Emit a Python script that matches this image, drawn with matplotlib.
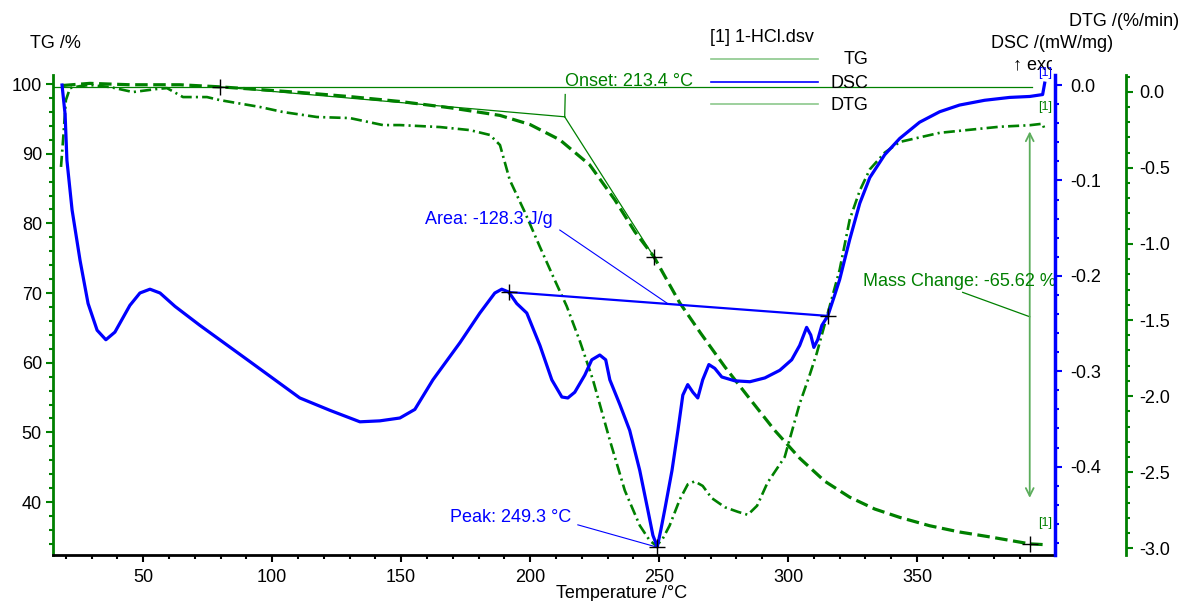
import matplotlib.pyplot as plt
from matplotlib.lines import Line2D
from matplotlib.ticker import MultipleLocator, FixedLocator
from matplotlib.transforms import Bbox

plt.rcParams['font.family'] = ['Liberation Sans', 'DejaVu Sans']
plt.rcParams['font.size'] = 13
plt.rcParams['lines.scale_dashes'] = False

GREEN = '#008000'
LIGHT = '#5cad5c'
BLUE = '#0000ff'

# TG /% vs temperature
tg_temp = [18.9, 29.3, 44.8, 64.2, 79.7, 95.2, 110.7, 130.1, 149.5, 168.9, 188.3, 199.9,
           211.5, 223.1, 232.8, 240.6, 248.0, 258.0, 266.0, 275.5, 285.2, 294.8, 304.5,
           314.2, 323.9, 333.6, 343.3, 354.9, 366.5, 378.2, 393.7, 398.7]
tg_mass = [99.8, 100.1, 99.9, 99.9, 99.6, 99.2, 98.8, 98.2, 97.5, 96.6, 95.5, 94.2,
           92.0, 88.4, 83.4, 78.8, 75.2, 68.6, 64.3, 59.4, 54.8, 50.3, 46.3,
           43.0, 40.7, 39.0, 37.8, 36.6, 35.7, 35.0, 34.0, 33.9]

# DTG /(%/min)
dtg_temp = [18.1, 18.9, 20.0, 21.6, 25.5, 29.3, 37.1, 46.0, 55.3, 59.2, 65.4, 74.7, 79.7,
            95.2, 104.1, 117.3, 130.1, 142.9, 149.5, 165.0, 176.6, 184.4, 188.3, 192.1,
            197.9, 203.8, 209.6, 214.2, 219.3, 224.3, 230.9, 236.7, 242.5, 246.4, 248.7,
            251.0, 254.1, 258.0, 261.1, 263.8, 266.9, 270.4, 275.5, 280.5, 284.4, 288.0,
            292.0, 298.7, 304.5, 308.4, 311.1, 315.0, 320.0, 323.9, 327.8, 331.7, 337.5,
            343.3, 351.0, 358.8, 370.4, 382.0, 393.7, 398.7, 399.5]
dtg_rate = [-0.494, -0.317, -0.055, 0.024, 0.037, 0.044, 0.031, -0.002, 0.018, 0.024, -0.035,
            -0.035, -0.055, -0.10, -0.133, -0.166, -0.173, -0.219, -0.219, -0.232, -0.252,
            -0.284, -0.35, -0.58, -0.79, -1.02, -1.24, -1.41, -1.64, -1.89, -2.29, -2.62,
            -2.85, -2.95, -2.98, -2.95, -2.85, -2.68, -2.58, -2.56, -2.59, -2.67, -2.73,
            -2.76, -2.78, -2.72, -2.57, -2.40, -2.05, -1.86, -1.72, -1.48, -1.17, -0.84,
            -0.65, -0.51, -0.40, -0.33, -0.30, -0.27, -0.25, -0.23, -0.22, -0.21, -0.25]

# DSC /(mW/mg)
dsc_temp = [18.5, 19.7, 20.4, 22.4, 25.5, 28.6, 32.1, 35.5, 39.0, 44.8, 48.7, 52.6, 56.5,
            62.3, 72.0, 91.4, 110.7, 122.4, 134.0, 141.7, 149.5, 155.3, 162.3, 172.8, 180.5,
            186.3, 189.0, 191.7, 194.8, 198.7, 203.8, 208.4, 212.3, 214.6, 217.3, 221.2,
            223.9, 227.0, 229.3, 230.9, 234.8, 238.6, 242.5, 245.6, 247.6, 249.3, 250.7,
            252.2, 255.0, 257.3, 259.2, 261.1, 263.1, 265.0, 266.9, 269.3, 271.6, 274.3,
            279.3, 285.2, 291.0, 296.8, 301.4, 304.5, 307.2, 308.8, 310.0, 311.5, 313.1,
            315.4, 318.1, 320.0, 323.9, 327.8, 331.7, 337.5, 343.3, 351.0, 358.8, 366.5,
            376.2, 385.9, 393.7, 398.7, 399.5]
dsc_flow = [0.000, -0.031, -0.079, -0.131, -0.184, -0.229, -0.257, -0.267, -0.259, -0.231,
            -0.218, -0.214, -0.218, -0.232, -0.252, -0.290, -0.328, -0.341, -0.353, -0.352,
            -0.349, -0.340, -0.309, -0.270, -0.239, -0.218, -0.214, -0.217, -0.229, -0.239,
            -0.273, -0.309, -0.327, -0.328, -0.322, -0.304, -0.288, -0.283, -0.288, -0.309,
            -0.335, -0.362, -0.404, -0.445, -0.472, -0.484, -0.466, -0.445, -0.404, -0.362,
            -0.325, -0.314, -0.322, -0.328, -0.309, -0.293, -0.297, -0.306, -0.310, -0.311,
            -0.307, -0.299, -0.288, -0.273, -0.254, -0.262, -0.275, -0.267, -0.252, -0.242,
            -0.220, -0.204, -0.162, -0.124, -0.097, -0.073, -0.056, -0.039, -0.028, -0.021,
            -0.016, -0.013, -0.012, -0.010, 0.002]

# tick positions on the temperature axis
x_major = [50, 100, 150, 200, 250, 300, 350]
x_minor = [20, 30, 40, 60, 70, 80, 90, 110, 120, 130, 140, 160, 170, 180, 190,
           210, 220, 230, 240, 260, 270, 280, 290, 310, 320, 330, 340, 360, 370, 380, 390]

# evaluation points
onset_temp, onset_tg = 213.4, 95.3
tg_base_pt = (79.7, 99.6)
tg_infl_pt = (248.0, 75.2)
tg_end_pt = (393.7, 34.0)
tg_level = 99.6
area_start = (191.7, -0.217)
area_end = (315.4, -0.242)
peak_temp, peak_dsc = 249.3, -0.484

W, H = 1182, 601
fig = plt.figure(figsize=(W / 100, H / 100), dpi=100)
ax = fig.add_axes([53 / W, 46 / H, (1055 - 53) / W, 480 / H])
ax_dtg = ax.twinx()
ax_dsc = ax.twinx()
for a in (ax_dtg, ax_dsc):
    a.patch.set_visible(False)

ax.set_xlim(15, 403.5)
ax.set_ylim(32.4, 101.3)
ax_dsc.set_ylim(-0.4926, 0.0105)
ax_dtg.set_ylim(-3.044, 0.11)

# spines
ax.spines['top'].set_visible(False)
ax.spines['right'].set_visible(False)
ax.spines['left'].set_color(GREEN)
ax.spines['left'].set_linewidth(2)
ax.spines['bottom'].set_linewidth(2)
for a in (ax_dtg, ax_dsc):
    for s in ('top', 'left', 'bottom'):
        a.spines[s].set_visible(False)
ax_dsc.spines['right'].set_color(BLUE)
ax_dsc.spines['right'].set_linewidth(2.5)
ax_dtg.spines['right'].set_color(GREEN)
ax_dtg.spines['right'].set_linewidth(2)
ax_dtg.spines['right'].set_position(('outward', 51))

# ticks
ax.xaxis.set_major_locator(FixedLocator(x_major))
ax.xaxis.set_minor_locator(FixedLocator(x_minor))
ax.yaxis.set_major_locator(MultipleLocator(10))
ax.yaxis.set_minor_locator(MultipleLocator(2))
ax_dsc.yaxis.set_major_locator(MultipleLocator(0.1))
ax_dsc.yaxis.set_minor_locator(MultipleLocator(0.02))
ax_dtg.yaxis.set_major_locator(MultipleLocator(0.5))
ax_dtg.yaxis.set_minor_locator(MultipleLocator(0.1))
ax_dsc.yaxis.set_major_formatter(lambda v, p: f'{v:.1f}' if abs(v) > 1e-9 else '0.0')
ax_dtg.yaxis.set_major_formatter(lambda v, p: f'{v:.1f}' if abs(v) > 1e-9 else '0.0')

ax.tick_params(axis='x', which='major', length=5, width=1.5, pad=5)
ax.tick_params(axis='x', which='minor', length=3, width=1.5)
ax.tick_params(axis='y', which='major', length=5, width=1.5, color=GREEN, pad=3)
ax.tick_params(axis='y', which='minor', length=3, width=1.5, color=GREEN)
ax_dsc.tick_params(axis='y', which='major', length=5, width=1.5, color=BLUE, pad=6)
ax_dsc.tick_params(axis='y', which='minor', length=3, width=1.5, color=BLUE)
ax_dtg.tick_params(axis='y', which='major', length=5, width=1.5, color=GREEN, pad=5)
ax_dtg.tick_params(axis='y', which='minor', length=3, width=1.5, color=GREEN)

# curves
ax.plot(tg_temp, tg_mass, color=GREEN, lw=2.3, dashes=(9, 4))
ax_dtg.plot(dtg_temp, dtg_rate, color=GREEN, lw=1.9, dashes=(8, 3, 1.5, 3))
ax_dsc.plot(dsc_temp, dsc_flow, color=BLUE, lw=2.3)

# TG evaluation: level line, onset tangents, mass change
ax.plot([15, tg_end_pt[0] + 1], [tg_level, tg_level], color=GREEN, lw=0.9)
ax.plot([tg_base_pt[0], onset_temp], [tg_base_pt[1], onset_tg], color=GREEN, lw=0.9)
ax.plot([onset_temp, tg_infl_pt[0]], [onset_tg, tg_infl_pt[1]], color=GREEN, lw=0.9)
ax.plot([onset_temp + 0.2, onset_temp], [98.5, onset_tg], color=GREEN, lw=0.9)
ax.text(onset_temp + 0.2, 100.3, 'Onset: 213.4 °C', color=GREEN, va='center', ha='left')
for p in (tg_base_pt, tg_infl_pt, tg_end_pt):
    ax.plot(*p, marker='+', color='black', ms=11, mew=1)

ax.annotate('', xy=(tg_end_pt[0], 40.6), xytext=(tg_end_pt[0], 93.2),
            arrowprops=dict(arrowstyle='<->', color=LIGHT, lw=1.3,
                            shrinkA=0, shrinkB=0, mutation_scale=14))
ax.plot([367.7, tg_end_pt[0]], [70.1, 66.6], color=GREEN, lw=0.9)
ax.text(329.0, 71.6, 'Mass Change: -65.62 %', color=GREEN, va='center', ha='left',
        clip_on=True, clip_box=ax.bbox)

# DSC evaluation: area and peak
ax_dsc.plot([area_start[0], area_end[0]], [area_start[1], area_end[1]], color=BLUE, lw=1.6)
ax_dsc.plot([211.5, 253.0], [-0.152, -0.2285], color=BLUE, lw=0.8)
ax_dsc.text(159.2, -0.1405, 'Area: -128.3 J/g', color=BLUE, va='center', ha='left')
ax_dsc.plot([218.5, peak_temp - 0.6], [-0.461, peak_dsc], color=BLUE, lw=0.8)
ax_dsc.text(168.9, -0.453, 'Peak: 249.3 °C', color=BLUE, va='center', ha='left')
for p in (area_start, area_end, (peak_temp, peak_dsc)):
    ax_dsc.plot(*p, marker='+', color='black', ms=11, mew=1)


def fx(x):
    return x / W


def fy(y):
    return 1 - y / H


# axis titles
fig.text(fx(30), fy(43), 'TG /%', va='center', ha='left')
fig.text(fx(622), fy(593), 'Temperature /°C', va='center', ha='center')
fig.text(fx(1179), fy(21), 'DTG /(%/min)', va='center', ha='right')
fig.text(fx(991), fy(43), 'DSC /(mW/mg)', va='center', ha='left')
exo = fig.text(fx(1013), fy(65), '↑ exo', va='center', ha='left')
exo.set_clip_box(Bbox([[0, 0], [1052, H]]))
exo.set_clip_on(True)

# curve end labels
fig.text(fx(1045), fy(73), '[1]', color=BLUE, fontsize=9, va='center', ha='center')
fig.text(fx(1045), fy(107), '[1]', color=GREEN, fontsize=9, va='center', ha='center')
fig.text(fx(1045), fy(523), '[1]', color=GREEN, fontsize=9, va='center', ha='center')

# legend
fig.text(fx(710), fy(38), '[1] 1-HCl.dsv', va='center', ha='left')
legend_rows = [('TG', '#8cc88c', 59), ('DSC', BLUE, 82), ('DTG', '#8cc88c', 104)]
for name, col, yy in legend_rows:
    fig.add_artist(Line2D([fx(711), fx(818)], [fy(yy), fy(yy)], color=col, lw=1.2,
                          transform=fig.transFigure))
    fig.text(fx(868), fy(yy + 1), name, va='center', ha='right')

fig.savefig('out.png', dpi=100)
